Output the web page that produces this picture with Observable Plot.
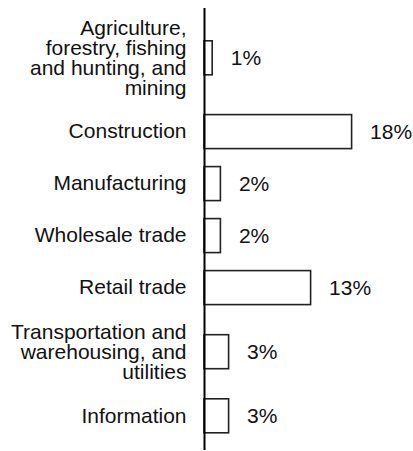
<!DOCTYPE html>
<html>
<head>
<meta charset="utf-8">
<script src="https://cdn.jsdelivr.net/npm/d3@7"></script>
<script src="https://cdn.jsdelivr.net/npm/@observablehq/plot@0.6"></script>
<style>
  html, body { margin: 0; padding: 0; background: #fff; }
  #chart svg { display: block; }
</style>
</head>
<body>
<div id="chart"></div>
<script>
// Data
const categories = [
  "Agriculture,\nforestry, fishing\nand hunting, and\nmining",
  "Construction",
  "Manufacturing",
  "Wholesale trade",
  "Retail trade",
  "Transportation and\nwarehousing, and\nutilities",
  "Information"
];
const values = [1, 18, 2, 2, 13, 3, 3];
const valueLabels = ["1%", "18%", "2%", "2%", "13%", "3%", "3%"];

// Layout: each row gets a slot sized by its label's line count
const barThickness = 34;
const lineUnit = 19.4;
const rowGap = 18;
let cursor = 0;
const rows = categories.map((c, i) => {
  const lines = c.split("\n").length;
  const slot = Math.max(barThickness, lines * lineUnit) + rowGap;
  const center = cursor + slot / 2;
  cursor += slot;
  return {category: c, value: values[i], label: valueLabels[i], center};
});
const total = cursor;

const font = "'Liberation Sans', Arial, Helvetica, sans-serif";

const chart = Plot.plot({
  width: 413,
  height: 451,
  marginLeft: 204,
  marginRight: 61.4,
  marginTop: 8,
  marginBottom: 1,
  style: {fontFamily: font, background: "#fff"},
  x: {domain: [0, 18], axis: null},
  y: {domain: [-2, total + 8.2], range: [8, 450], axis: null},
  marks: [
    Plot.rect(rows, {
      x1: 0,
      x2: "value",
      y1: d => d.center - barThickness / 2,
      y2: d => d.center + barThickness / 2,
      fill: "white",
      stroke: "#222",
      strokeWidth: 1.6
    }),
    Plot.ruleX([0], {y1: -2, y2: total + 8.2, stroke: "black", strokeWidth: 2}),
    Plot.text(rows, {
      x: 0,
      y: "center",
      text: "category",
      textAnchor: "end",
      dx: -18,
      fontSize: 21,
      lineHeight: 0.95,
      fill: "#111",
      fontFamily: font
    }),
    Plot.text(rows, {
      x: "value",
      y: "center",
      text: "label",
      textAnchor: "start",
      dx: 18,
      fontSize: 21,
      fill: "#111",
      fontFamily: font
    })
  ]
});
document.getElementById("chart").appendChild(chart);
</script>
</body>
</html>
